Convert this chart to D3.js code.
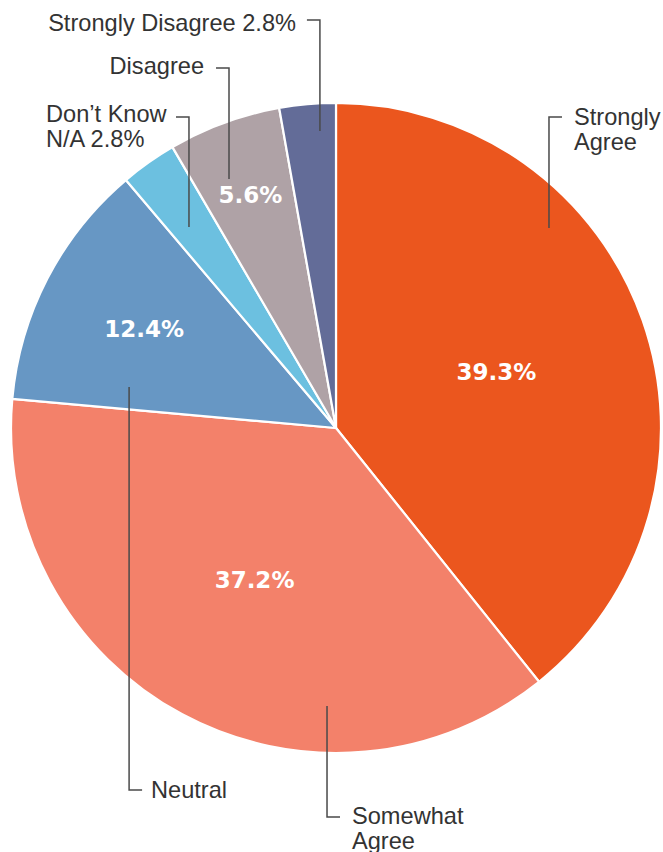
<!DOCTYPE html>
<html>
<head>
<meta charset="utf-8">
<script src="https://cdn.jsdelivr.net/npm/d3@7"></script>
<style>
  html, body { margin: 0; padding: 0; background: #fff; }
  svg { display: block; }
</style>
</head>
<body>
<svg id="chart" width="663" height="852"></svg>
<script>
// Survey responses, clockwise from 12 o'clock
const categories = ["Strongly Agree", "Somewhat Agree", "Neutral", "Don\u2019t Know N/A", "Disagree", "Strongly Disagree"];
const values = [39.3, 37.2, 12.4, 2.8, 5.6, 2.8];
const labelLines = [
  ["Strongly", "Agree"],
  ["Somewhat", "Agree"],
  ["Neutral"],
  ["Don\u2019t Know", "N/A 2.8%"],
  ["Disagree"],
  ["Strongly Disagree 2.8%"]
];
// which slices carry their percentage inside the wedge
const showInside = [true, true, true, false, true, false];

const colors = ["#EB561E", "#F3816A", "#6797C4", "#6CC0E0", "#AFA2A6", "#636C98"];

// Layout of the callouts: anchor inside the slice (degrees / fraction of radius),
// elbow height, side of the text and the text origin.
const callouts = [
  { ang: 46.8,  rr: 0.899, elbowY: 117, dir:  1, tx: 574, ty: 125 },
  { ang: 181.85, rr: 0.856, elbowY: 817, dir:  1, tx: 352, ty: 824 },
  { ang: 281.2, rr: 0.649, elbowY: 790, dir:  1, tx: 151, ty: 798 },
  { ang: 323.8, rr: 0.766, elbowY: 117, dir: -1, tx: 46,  ty: 122, anchor: "start" },
  { ang: 336.75, rr: 0.834, elbowY: 68, dir: -1, tx: 204, ty: 74 },
  { ang: 356.9, rr: 0.915, elbowY: 20, dir: -1, tx: 296, ty: 30.5 }
];
const insideRadius = [0.523, 0.53, 0.665, 0, 0.764, 0];

const cx = 336, cy = 428, R = 325;
const svg = d3.select("#chart");
const g = svg.append("g").attr("transform", `translate(${cx},${cy})`);

const data = categories.map((c, i) => ({ name: c, value: values[i], i }));
const pie = d3.pie().sort(null).value(d => d.value);
const arcs = pie(data);
const arc = d3.arc().innerRadius(0).outerRadius(R);

g.selectAll("path.slice")
  .data(arcs)
  .join("path")
  .attr("class", "slice")
  .attr("d", arc)
  .attr("fill", d => colors[d.data.i])
  .attr("stroke", "#fff")
  .attr("stroke-width", 2.2)
  .attr("stroke-linejoin", "round");

// percentage labels inside the wedges
g.selectAll("text.pct")
  .data(arcs.filter(d => showInside[d.data.i]))
  .join("text")
  .attr("class", "pct")
  .attr("transform", d => {
    const r = insideRadius[d.data.i] * R;
    const c = d3.arc().innerRadius(r).outerRadius(r).centroid(d);
    return `translate(${c[0]},${c[1]})`;
  })
  .attr("dy", "0.36em")
  .attr("text-anchor", "middle")
  .attr("fill", "#fff")
  .attr("font-family", "'DejaVu Sans', Verdana, sans-serif")
  .attr("font-weight", "bold")
  .attr("font-size", 23)
  .text(d => d.data.value.toFixed(1) + "%");

// callout leader lines and category names
const toRad = Math.PI / 180;
const lead = svg.append("g")
  .attr("fill", "none")
  .attr("stroke", "#4a4a4a")
  .attr("stroke-width", 1.5);

callouts.forEach((c, i) => {
  const p = d3.pointRadial(c.ang * toRad, c.rr * R);
  const x = cx + p[0], y = cy + p[1];
  const tick = 13;
  lead.append("path")
    .attr("d", d3.line()([[x, y], [x, c.elbowY], [x + c.dir * tick, c.elbowY]]));

  const t = svg.append("text")
    .attr("x", c.tx)
    .attr("y", c.ty)
    .attr("fill", "#333")
    .attr("font-family", "'Liberation Sans', Arial, Helvetica, sans-serif")
    .attr("font-size", 23.6)
    .attr("text-anchor", c.anchor ? c.anchor : (c.dir > 0 ? "start" : "end"));
  labelLines[i].forEach((ln, k) => {
    t.append("tspan")
      .attr("x", c.tx)
      .attr("dy", k === 0 ? 0 : 24.5)
      .text(ln);
  });
});
</script>
</body>
</html>
